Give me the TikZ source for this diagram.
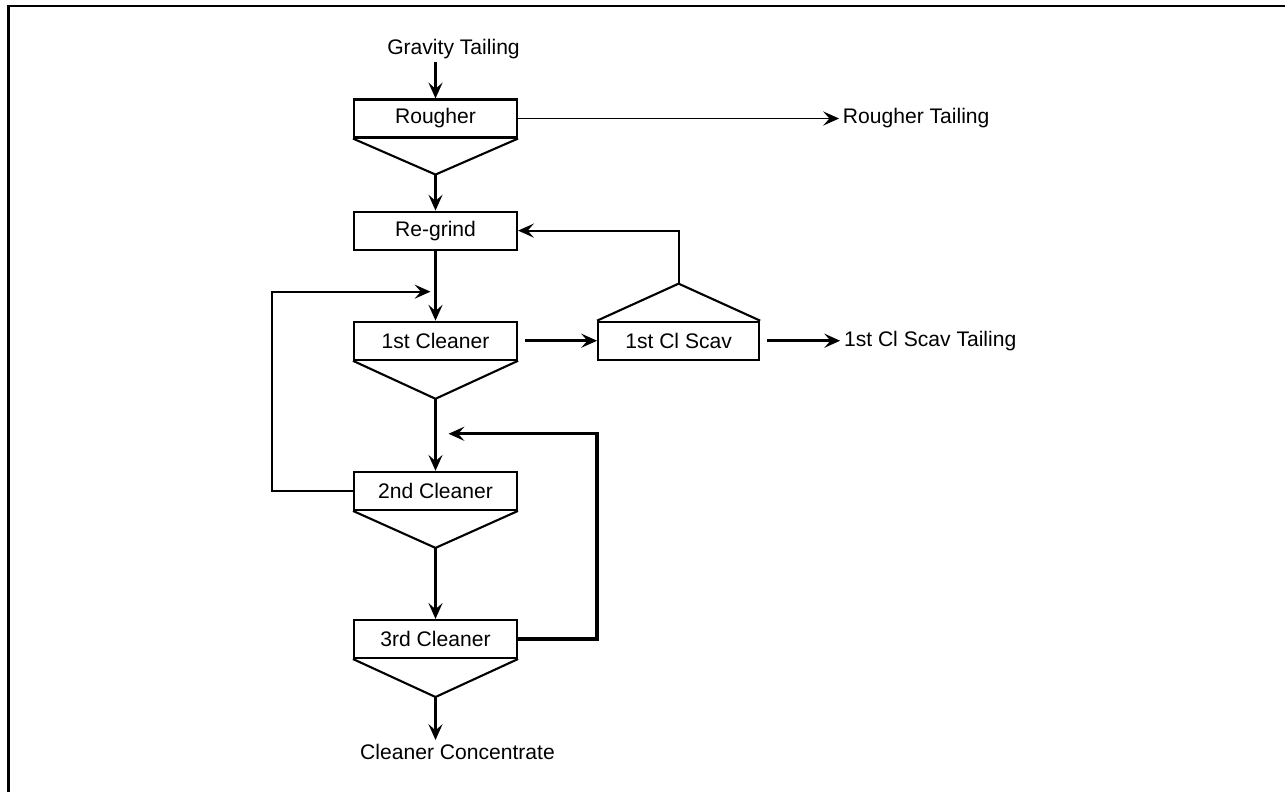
\documentclass[tikz,border=0pt]{standalone}
\usepackage{fontspec}
\setmainfont{Liberation Sans}
\usepackage{tikz}
\usetikzlibrary{arrows.meta, positioning}

\begin{document}
\begin{tikzpicture}[
      font=\fontsize{12}{14}\selectfont,
      cell/.style={draw, line width=1.2pt, minimum width=3.26cm, minimum height=0.76cm, align=center, inner sep=0pt},
      lbl/.style={inner sep=2pt},
      cone/.style={line width=1.2pt, line join=miter},
      arr/.style={-{Stealth[length=9pt, width=8pt, inset=3.5pt]}, line width=1.3pt},
      farr/.style={arr, line width=1.9pt}
    ]
    \useasboundingbox (0,0) rectangle (25.7,-15.84);
    % frame
    \draw[line width=1.7pt] (0.17,-15.84) -- (0.17,-0.12) -- (25.7,-0.12);

    % main column
    \node[cell] (rough) at (8.71,-2.37) {Rougher};
    \node[cell, below=1.44cm of rough] (regrind) {Re-grind};
    \node[cell, below=1.40cm of regrind] (clean1) {1st Cleaner};
    \node[cell, below=2.20cm of clean1] (clean2) {2nd Cleaner};
    \node[cell, below=2.16cm of clean2] (clean3) {3rd Cleaner};
    \node[cell, minimum width=3.22cm, right=1.58cm of clean1] (scav) {1st Cl Scav};

    % cone bottoms
    \coordinate[below=0.72cm of rough.south] (rougha);
    \coordinate[below=0.76cm of clean1.south] (clean1a);
    \coordinate[below=0.74cm of clean2.south] (clean2a);
    \coordinate[below=0.76cm of clean3.south] (clean3a);
    \coordinate[above=0.74cm of scav.north] (scava);
    \draw[cone] (rough.south west) -- (rougha) -- (rough.south east);
    \draw[cone] (clean1.south west) -- (clean1a) -- (clean1.south east);
    \draw[cone] (clean2.south west) -- (clean2a) -- (clean2.south east);
    \draw[cone] (clean3.south west) -- (clean3a) -- (clean3.south east);
    \draw[cone] (scav.north west) -- (scava) -- (scav.north east);

    % feeds and products
    \node[lbl, above=0.72cm of rough, xshift=0.36cm] (grav) {Gravity Tailing};
    \node[lbl, below=0.86cm of clean3a, xshift=0.44cm] (conc) {Cleaner Concentrate};
    \node[lbl, right=6.42cm of rough] (rtail) {Rougher Tailing};
    \node[lbl, right=1.6cm of scav] (stail) {1st Cl Scav Tailing};

    \coordinate[above left=0.58cm and 0.1cm of clean1.north] (in1);
    \coordinate[above right=0.74cm and 0.26cm of clean2.north] (in2);

    \draw[arr] (grav.south -| rough.north) -- (rough.north);
    \draw[arr] (rougha) -- (regrind);
    \draw[arr] (regrind) -- (clean1);
    \draw[arr] (clean1a) -- (clean2);
    \draw[arr] (clean2a) -- (clean3);
    \draw[arr] (clean3a) -- (conc.north -| clean3a);
    \draw[arr, line width=1.1pt] (rough) -- (rtail);
    \draw[farr, shorten <=4pt] (clean1) -- (scav);
    \draw[farr, shorten <=4pt] (scav) -- (stail);
    \draw[arr, line width=1.1pt] (scava) |- (regrind.east);
    \draw[arr] (clean2.west) -- ++(-1.62,0) |- (in1);
    \draw[farr] (clean3.east) -- ++(1.58,0) |- (in2);
  \end{tikzpicture}
\end{document}
